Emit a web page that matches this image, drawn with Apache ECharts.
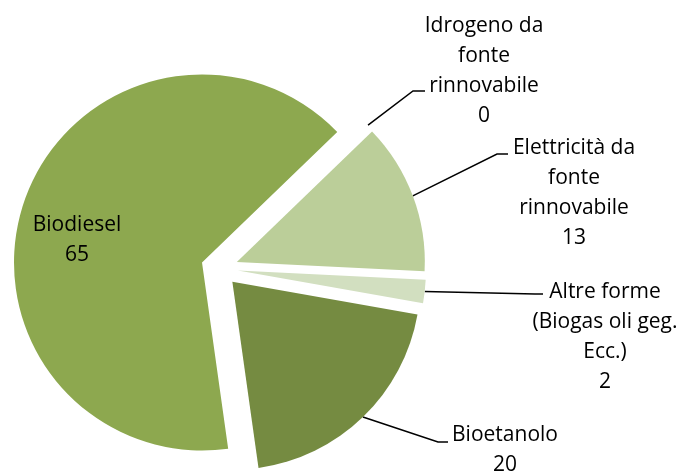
<!DOCTYPE html>
<html>
<head>
<meta charset="utf-8">
<script src="https://cdn.jsdelivr.net/npm/echarts@6/dist/echarts.min.js"></script>
<style>
  html, body { margin: 0; padding: 0; background: #fff; }
  #chart { width: 679px; height: 472px; }
</style>
</head>
<body>
<div id="chart"></div>
<script>
var categories = ['Idrogeno da\nfonte\nrinnovabile', 'Elettricità da\nfonte\nrinnovabile', 'Altre forme\n(Biogas oli geg.\nEcc.)', 'Bioetanolo', 'Biodiesel']
var values = [0, 13, 2, 20, 65]
var colors = ['#9bbb59', '#bbce99', '#d2dfc0', '#758b41', '#8da84f']

// label centres and leader line bends (layout only)
var labelPos = [[484, 71], [574, 193], [605, 337], [505, 450], [77, 240]]
var bends = [[[413, 91], [425, 91]], [[497, 154], [508, 154]], [[535, 294], [543, 294]], [[438, 442], [448, 442]], null]

var cx = 219.5, cy = 268.5, R = 188, off = 18.5
var start = 46 // degrees clockwise from 12 o'clock

var total = values.reduce(function (a, b) { return a + b }, 0)

function midAngle(i) {
  var cum = 0
  for (var k = 0; k < i; k++) cum += values[k]
  return (start + 360 * (cum + values[i] / 2) / total) * Math.PI / 180
}

// point on the outer arc at the middle of each exploded slice
function arcPoint(i) {
  var a = midAngle(i)
  return [cx + (R + off) * Math.sin(a), cy - (R + off) * Math.cos(a)]
}

// one pie per slice, each shifted outwards, so the slices look exploded
var series = values.map(function (v, s) {
  var a = midAngle(s)
  return {
    type: 'pie',
    center: [cx + off * Math.sin(a), cy - off * Math.cos(a)],
    radius: R,
    startAngle: 90 - start,
    clockwise: true,
    avoidLabelOverlap: false,
    silent: true,
    label: {
      show: true,
      formatter: '{b}\n{c}',
      fontFamily: 'Open Sans',
      fontSize: 21,
      lineHeight: 30,
      color: '#000'
    },
    labelLine: {
      show: true,
      lineStyle: { color: '#000', width: 1.5 }
    },
    labelLayout: function (params) {
      var i = params.dataIndex
      var res = {
        x: labelPos[i][0],
        y: labelPos[i][1],
        align: 'center',
        verticalAlign: 'middle'
      }
      if (bends[i]) {
        res.labelLinePoints = [arcPoint(i), bends[i][0], bends[i][1]]
      }
      return res
    },
    data: categories.map(function (name, i) {
      var mine = i === s
      return {
        name: name,
        value: values[i],
        itemStyle: { color: mine ? colors[i] : 'rgba(0,0,0,0)' },
        label: { show: mine },
        labelLine: { show: mine && !!bends[i] }
      }
    })
  }
})

var chart = echarts.init(document.getElementById('chart'))
chart.setOption({ animation: false, series: series })
</script>
</body>
</html>
